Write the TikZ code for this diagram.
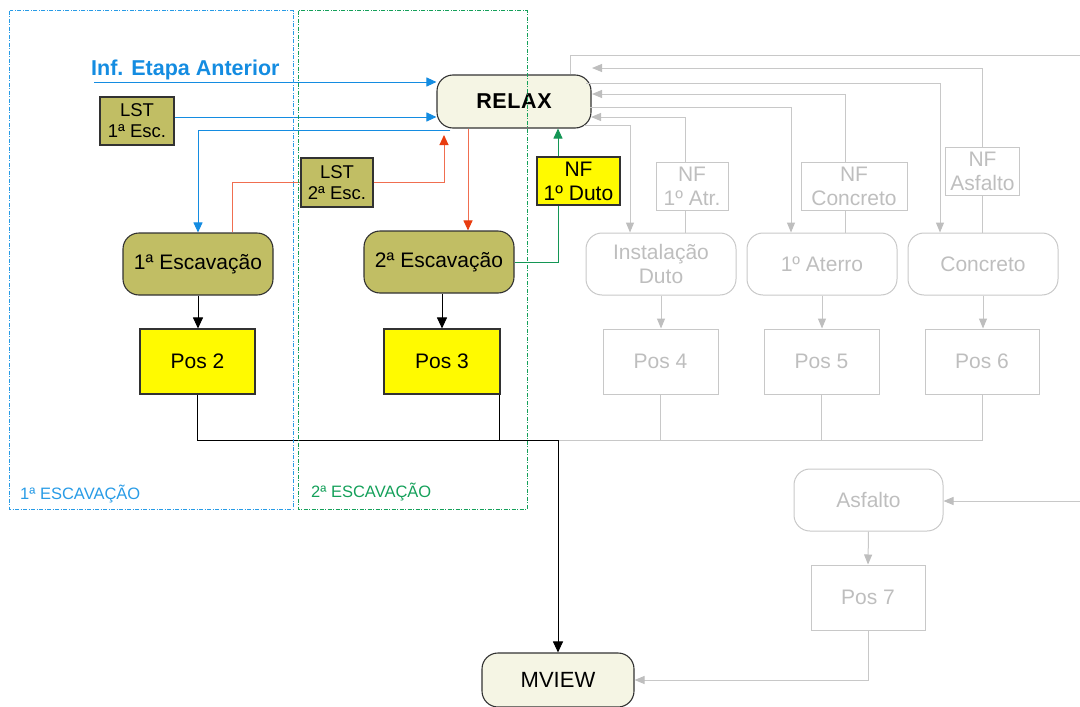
\documentclass[tikz,border=0pt]{standalone}
\usepackage{fontspec}
\setmainfont{Liberation Sans}
\usetikzlibrary{arrows.meta,calc}
\definecolor{cblue}{RGB}{20,140,225}
\definecolor{cframeb}{RGB}{40,155,230}
\definecolor{cframeg}{RGB}{20,160,90}
\definecolor{cgreenl}{RGB}{20,150,85}
\definecolor{credl}{RGB}{240,110,80}
\definecolor{credtip}{RGB}{232,60,15}
\definecolor{cgrayline}{RGB}{200,200,200}
\definecolor{cgraytext}{RGB}{190,190,190}
\definecolor{colive}{RGB}{193,190,100}
\definecolor{ccream}{RGB}{245,245,228}
\definecolor{cyellow}{RGB}{255,250,0}
\definecolor{cdark}{RGB}{50,50,50}
\begin{document}
\begin{tikzpicture}[x=1pt,y=-1pt,
  every node/.style={inner sep=0pt,align=center},
  t21/.style={font=\fontsize{21}{24}\selectfont},
  t18/.style={font=\fontsize{18.5}{21}\selectfont},
  olivebox/.style={draw=cdark,line width=1.1pt,fill=colive},
  procbox/.style={olivebox,rounded corners=16pt,t21},
  lstbox/.style={olivebox,t18},
  yelbox/.style={draw=cdark,line width=1.1pt,fill=cyellow,t21},
  creambox/.style={draw=cdark,line width=1.1pt,fill=ccream,rounded corners=16pt},
  grayproc/.style={draw=cgrayline,line width=1pt,rounded corners=16pt,text=cgraytext,t21},
  graybox/.style={draw=cgrayline,line width=1pt,text=cgraytext,t21},
  lineb/.style={line width=1pt},
  gl/.style={cgrayline,line width=1pt},
  tipk/.style={-{Triangle[length=11pt,width=10pt]}},
  tipb/.style={-{Triangle[length=10pt,width=9pt]}},
  tipr/.style={-{Triangle[length=10pt,width=9pt,color=credtip]}},
  tipg/.style={-{Triangle[length=10pt,width=9pt]}},
  tipgr/.style={-{Triangle[length=10pt,width=8pt,color=cgraytext]}},
  framestyle/.style={line width=0.9pt,dash pattern=on 4pt off 1.5pt on 1pt off 1.5pt}
]
\useasboundingbox (0,0) rectangle (1080,707);

% ---------- nodes ----------
\node[creambox,minimum width=154pt,minimum height=53pt,
      font=\fontsize{21.5}{24}\selectfont\bfseries\addfontfeatures{LetterSpace=3}] (relax) at (514,101.5) {RELAX};
\node[lstbox,minimum width=74pt,minimum height=48pt] (lst1) at (137,121) {LST\\1ª Esc.};
\node[lstbox,minimum width=72pt,minimum height=49pt] (lst2) at (337,182.5) {LST\\2ª Esc.};
\node[procbox,minimum width=150pt,minimum height=62pt] (esc1) at (198,264) {1ª Escavação};
\node[procbox,minimum width=150pt,minimum height=62pt] (esc2) at (439,262) {2ª Escavação};
\node[yelbox,minimum width=83pt,minimum height=48pt] (nf1) at (578.5,181) {NF\\1º Duto};
\node[yelbox,minimum width=115pt,minimum height=65pt] (pos2) at (197.5,361.5) {Pos 2};
\node[yelbox,minimum width=116pt,minimum height=65pt] (pos3) at (442,361.5) {Pos 3};
\node[creambox,minimum width=152pt,minimum height=54pt,font=\fontsize{22}{24}\selectfont] (mview) at (558,680) {MVIEW};

\node[graybox,minimum width=72pt,minimum height=48pt] (nfatr) at (692,186) {NF\\1º Atr.};
\node[graybox,minimum width=106pt,minimum height=48pt] (nfconc) at (854,186) {NF\\Concreto};
\node[graybox,minimum width=74pt,minimum height=48pt] (nfasf) at (982.5,171) {NF\\Asfalto};
\node[grayproc,minimum width=150pt,minimum height=62pt] (inst) at (661,264) {Instalação\\Duto};
\node[grayproc,minimum width=150pt,minimum height=62pt] (aterro) at (822,264) {1º Aterro};
\node[grayproc,minimum width=150pt,minimum height=62pt] (concreto) at (983,264) {Concreto};
\node[graybox,minimum width=115pt,minimum height=65pt] (pos4) at (660.5,361.5) {Pos 4};
\node[graybox,minimum width=115pt,minimum height=65pt] (pos5) at (821.5,361.5) {Pos 5};
\node[graybox,minimum width=114pt,minimum height=65pt] (pos6) at (982,361.5) {Pos 6};
\node[grayproc,minimum width=149pt,minimum height=62pt] (asf) at (868.5,500) {Asfalto};
\node[graybox,minimum width=114pt,minimum height=65pt] (pos7) at (868,597.5) {Pos 7};

\node[anchor=base west,text=cblue,font=\fontsize{21.5}{24}\selectfont\bfseries] (inf) at (91,75) {Inf. Etapa Anterior};

% ---------- gray connectors ----------
\coordinate (jn) at (558,440);
\coordinate (g1) at ($(relax.north)+(56,0)$);
\coordinate (g1e) at (1090,55);
\draw[gl] (g1) |- (g1e);
\coordinate (g2) at (592,68);
\draw[gl,tipgr] (nfasf.north) |- (g2);
\coordinate (g3) at (586,83);
\coordinate (g3e) at ($(concreto.north)+(-43,0)$);
\draw[gl,tipgr] (g3) -| (g3e);
\coordinate (g4s) at ($(nfconc.north)+(-9,0)$);
\coordinate (g4) at (592,94);
\draw[gl,tipgr] (g4s) |- (g4);
\coordinate (g5) at (590,107);
\coordinate (g5e) at ($(aterro.north)+(-31,0)$);
\draw[gl,tipgr] (g5) -| (g5e);
\coordinate (g6s) at ($(nfatr.north)+(-7,0)$);
\coordinate (g6) at (591,117);
\draw[gl,tipgr] (g6s) |- (g6);
\coordinate (g7) at (584,125);
\coordinate (g7e) at ($(inst.north)+(-31,0)$);
\draw[gl,tipgr] (g7) -| (g7e);
\coordinate (n1) at ($(nfatr.south)+(-7,0)$);
\draw[gl] (n1) -- (n1 |- inst.north);
\coordinate (n2) at ($(nfconc.south)+(-9,0)$);
\draw[gl] (n2) -- (n2 |- aterro.north);
\draw[gl] (nfasf.south) -- (nfasf.south |- concreto.north);
\draw[gl,tipgr] (inst.south) -- (inst.south |- pos4.north);
\draw[gl,tipgr] (aterro.south) -- (aterro.south |- pos5.north);
\draw[gl,tipgr] (concreto.south) -- (concreto.south |- pos6.north);
\draw[gl] (pos6.south) |- (jn);
\draw[gl] (pos4.south) -- (pos4.south |- jn);
\draw[gl] (pos5.south) -- (pos5.south |- jn);
\coordinate (ain) at (1090,501);
\draw[gl,tipgr] (ain) -- (ain -| asf.east);
\draw[gl,tipgr] (asf.south) -- (pos7.north);
\draw[gl,tipgr] (pos7.south) |- (mview.east);

% ---------- blue connectors ----------
\coordinate (infs) at (94,82);
\draw[cblue,lineb,tipb] (infs) -- (infs -| relax.west);
\coordinate (l1o) at ($(lst1.east)+(0,-4)$);
\draw[cblue,lineb,tipb] (l1o) -- (l1o -| relax.west);
\coordinate (bf) at ($(relax.south west)+(14,2)$);
\draw[cblue,lineb,tipb] (bf) -| (esc1.north);

% ---------- red connectors ----------
\coordinate (r1) at ($(esc1.north)+(34,0)$);
\draw[credl,lineb] (r1) |- (lst2.west);
\coordinate (rtip) at (444,135);
\draw[credl,lineb,tipr] (lst2.east) -| (rtip);
\coordinate (rd) at ($(relax.south)+(-46,0)$);
\draw[credl,lineb,tipr] (rd) -- (rd |- esc2.north);

% ---------- green connectors ----------
\coordinate (gs) at ($(nf1.south)+(-20.5,0)$);
\draw[cgreenl,lineb] (esc2.east) -| (gs);
\coordinate (gn) at ($(nf1.north)+(-20.5,0)$);
\draw[cgreenl,lineb,tipg] (gn) -- (gn |- relax.south);

% ---------- black connectors ----------
\draw[black,lineb,tipk] (esc1.south) -- (esc1.south |- pos2.north);
\draw[black,lineb,tipk] (pos3.north |- esc2.south) -- (pos3.north);
\draw[black,lineb] (pos2.south) |- (jn);
\coordinate (p3b) at ($(pos3.south)+(57,0)$);
\draw[black,lineb] (p3b) -- (p3b |- jn);
\draw[black,lineb,tipk] (jn) -- (mview.north);

% ---------- frames ----------
\draw[cframeb,framestyle] (9.5,10.5) rectangle (293,509);
\draw[cframeg,framestyle] (298,10.5) rectangle (527,509);
\node[anchor=base west,text=cframeb,font=\fontsize{16.5}{18}\selectfont] (lab1) at (20,499) {1ª ESCAVAÇÃO};
\node[anchor=base west,text=cframeg,font=\fontsize{16.5}{18}\selectfont] (lab2) at (311,497) {2ª ESCAVAÇÃO};
\end{tikzpicture}
\end{document}
